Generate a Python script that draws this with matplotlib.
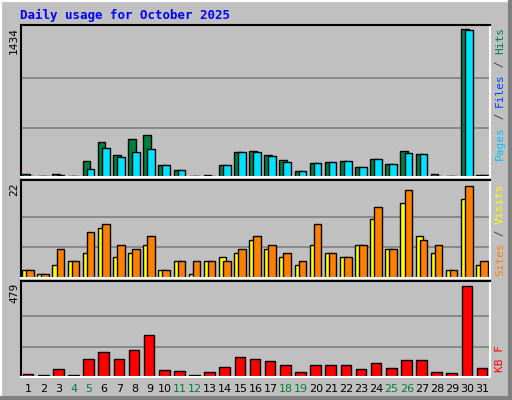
import matplotlib
matplotlib.use("Agg")
from matplotlib import pyplot as plt
from matplotlib.patches import Rectangle

days = list(range(1, 32))
weekend = [4, 5, 11, 12, 18, 19, 25, 26]

hits = [32, 13, 32, 13, 159, 343, 217, 373, 411, 120, 71, 13, 23, 120, 246, 256,
        217, 169, 62, 139, 149, 159, 100, 178, 130, 256, 227, 32, 13, 1434, 23]
files = [10, 5, 23, 5, 81, 285, 198, 246, 275, 120, 71, 5, 13, 120, 246, 246,
         207, 149, 62, 139, 149, 159, 100, 178, 130, 237, 227, 13, 5, 1422, 23]
pages = [3, 1, 6, 1, 12, 8, 4, 6, 10, 2, 2, 1, 2, 3, 3, 3,
         3, 3, 2, 3, 3, 3, 2, 8, 3, 9, 3, 2, 1, 8, 6]
visits = [2, 1, 3, 4, 6, 12, 5, 6, 8, 2, 4, 1, 4, 5, 6, 9,
          7, 5, 3, 8, 6, 5, 8, 14, 7, 18, 10, 6, 2, 19, 3]
sites = [2, 1, 7, 4, 11, 13, 8, 7, 10, 2, 4, 4, 4, 4, 7, 10,
         8, 6, 4, 13, 6, 5, 8, 17, 7, 21, 9, 8, 2, 22, 4]
kbytes = [17, 12, 44, 12, 96, 133, 96, 143, 222, 38, 33, 12, 28, 54, 107, 96,
          86, 65, 28, 65, 65, 65, 44, 75, 49, 91, 91, 28, 23, 479, 49]

W, H = 512, 400
BG = "#C0C0C0"
fig = plt.figure(figsize=(W / 100, H / 100), dpi=100, facecolor=BG)

# bevelled outer frame
fig.patches.append(Rectangle((0, 0), 1, 1, transform=fig.transFigure, fill=False,
                             edgecolor="white", lw=3))
fig.add_artist(plt.Line2D([1 - 2 / W, 1 - 2 / W], [0, 1], color="#808080", lw=3,
                          transform=fig.transFigure))
fig.add_artist(plt.Line2D([0, 1], [2 / H, 2 / H], color="#808080", lw=3,
                          transform=fig.transFigure))

font = "DejaVu Sans Mono"
fig.text(20 / W, 1 - 15 / H, "Daily usage for October 2025", color="#0000FF",
         fontsize=9, fontweight="bold", family=font, va="center")


def panel(top, bottom, vmax, reach):
    ax = fig.add_axes([21 / W, 1 - bottom / H, 469 / W, (bottom - top) / H])
    ax.set_facecolor(BG)
    ax.set_xlim(0.5, 31.5)
    ax.set_ylim(0, vmax * (bottom - top) / reach)
    for k in (1, 2):
        ax.axhline(vmax * k / 3, color="#808080", lw=1.2, zorder=0)
    ax.set_xticks([])
    ax.set_yticks([])
    for s in ("left", "top"):
        ax.spines[s].set_color("black")
    for s in ("right", "bottom"):
        ax.spines[s].set_color("white")
    for s in ax.spines.values():
        s.set_linewidth(1.5)
    fig.text(14 / W, 1 - (top + 2) / H, str(vmax), rotation=90, ha="center", va="top",
             fontsize=8, family=font)
    return ax


def right_label(top, parts):
    # parts listed bottom to top, rotated text going up
    y = top
    for txt, col in reversed(parts):
        fig.text(500 / W, 1 - y / H, txt, rotation=90, ha="center", va="top",
                 color=col, fontsize=8, family=font)
        y += len(txt) * 6.6


edge = dict(edgecolor="black", linewidth=1)

ax1 = panel(25, 177, 1434, 148)
x = [d - 0.5 for d in days]
ax1.bar([v + 0.08 for v in x], hits, width=0.5, align="edge", color="#008040", **edge)
ax1.bar([v + 0.08 for v in x], pages, width=0.2, align="edge", color="#0040FF", **edge)
ax1.bar([v + 0.35 for v in x], files, width=0.5, align="edge", color="#00E0FF", **edge)
right_label(27, [("Pages", "#00C0FF"), (" / ", "#404040"), ("Files", "#0040FF"),
                 (" / ", "#404040"), ("Hits", "#008040")])

ax2 = panel(180, 278, 22, 92)
ax2.bar([v + 0.08 for v in x], visits, width=0.5, align="edge", color="#FFFF00", **edge)
ax2.bar([v + 0.35 for v in x], sites, width=0.5, align="edge", color="#FF8000", **edge)
right_label(183, [("Sites", "#FF8000"), (" / ", "#404040"), ("Visits", "#FFFF00")])

ax3 = panel(281, 377, 479, 91)
ax3.bar([v + 0.12 for v in x], kbytes, width=0.7, align="edge", color="#FF0000", **edge)
fig.text(500 / W, 1 - 345 / H, "KB F", rotation=90, ha="center", va="top",
         color="#FF0000", fontsize=8, family=font)

for d in days:
    px = 21 + (d - 0.5) * 469 / 31
    fig.text(px / W, 1 - 389 / H, str(d), ha="center", va="center", fontsize=8,
             color="#008040" if d in weekend else "black")

fig.savefig("out.png", dpi=100, facecolor=BG)
